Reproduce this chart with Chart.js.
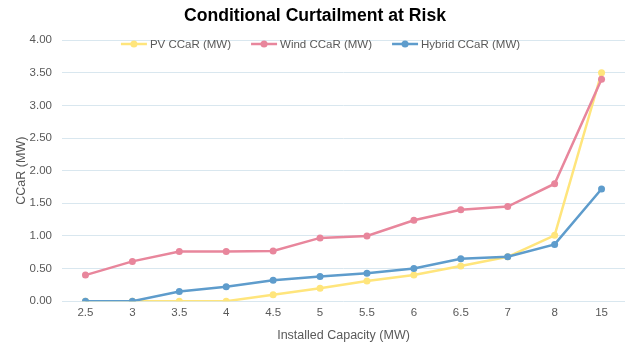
<!DOCTYPE html>
<html>
<head>
<meta charset="utf-8">
<script src="https://cdn.jsdelivr.net/npm/chart.js@4.4.1/dist/chart.umd.min.js"></script>
<style>
  html, body { margin: 0; padding: 0; background: #fff; }
  #wrap { position: relative; width: 631px; height: 343px; }
</style>
</head>
<body>
<div id="wrap"><canvas id="chart"></canvas></div>
<script>
// installed capacity steps (MW)
const capacities = ['2.5', '3', '3.5', '4', '4.5', '5', '5.5', '6', '6.5', '7', '8', '15'];

// conditional curtailment at risk per technology (MW)
const pvCCaR     = [0.00, 0.00, 0.00, 0.00, 0.10, 0.20, 0.31, 0.40, 0.54, 0.68, 1.01, 3.50];
const windCCaR   = [0.40, 0.61, 0.76, 0.76, 0.77, 0.97, 1.00, 1.24, 1.40, 1.45, 1.80, 3.40];
const hybridCCaR = [0.00, 0.00, 0.15, 0.22, 0.32, 0.38, 0.43, 0.50, 0.65, 0.68, 0.87, 1.72];

const yTicks = [0, 0.5, 1, 1.5, 2, 2.5, 3, 3.5, 4];

const FONT = '"Liberation Sans", Arial, sans-serif';
const TEXT = '#595959';

function series(label, data, color, order) {
  return {
    label, data, order,
    borderColor: color,
    backgroundColor: color,
    borderWidth: 2.5,
    pointRadius: 3.5,
    pointHoverRadius: 3.5,
    pointBorderWidth: 0,
    tension: 0
  };
}

// legend drawn by hand: short line with a dot, then the label
const lineLegend = {
  id: 'lineLegend',
  afterDraw(chart) {
    const ctx = chart.ctx;
    const y = 44;
    const gap = 20;
    ctx.save();
    ctx.font = '11.5px ' + FONT;
    ctx.textBaseline = 'middle';
    const items = chart.data.datasets.map(ds => ({
      ds, w: 26 + 3 + ctx.measureText(ds.label).width
    }));
    const total = items.reduce((s, it) => s + it.w, 0) + gap * (items.length - 1);
    let x = 320.5 - total / 2;
    items.forEach(it => {
      ctx.strokeStyle = it.ds.borderColor;
      ctx.lineWidth = 2.5;
      ctx.beginPath();
      ctx.moveTo(x, y);
      ctx.lineTo(x + 26, y);
      ctx.stroke();
      ctx.fillStyle = it.ds.borderColor;
      ctx.beginPath();
      ctx.arc(x + 13, y, 3.5, 0, Math.PI * 2);
      ctx.fill();
      ctx.fillStyle = TEXT;
      ctx.textAlign = 'left';
      ctx.fillText(it.ds.label, x + 29, y + 0.5);
      x += it.w + gap;
    });
    ctx.restore();
  }
};

new Chart(document.getElementById('chart'), {
  type: 'line',
  data: {
    labels: capacities,
    datasets: [
      series('PV CCaR (MW)', pvCCaR, '#FFE57C', 3),
      series('Wind CCaR (MW)', windCCaR, '#E8869C', 2),
      series('Hybrid CCaR (MW)', hybridCCaR, '#5E9CCC', 1)
    ]
  },
  options: {
    responsive: true,
    maintainAspectRatio: false,
    animation: false,
    layout: { padding: { top: 0, right: 6, left: 5, bottom: 0 } },
    plugins: {
      legend: { display: false },
      tooltip: { enabled: false },
      title: {
        display: true,
        text: 'Conditional Curtailment at Risk',
        color: '#000',
        font: { family: FONT, size: 17.6, weight: 'bold' },
        padding: { top: 6, bottom: 13 }
      }
    },
    scales: {
      x: {
        offset: true,
        grid: { display: false, drawTicks: false },
        border: { display: false },
        ticks: { color: TEXT, font: { family: FONT, size: 11.5 }, padding: 5, maxRotation: 0 },
        title: {
          display: true,
          text: 'Installed Capacity (MW)',
          color: TEXT,
          font: { family: FONT, size: 12.5 },
          padding: { top: 3, bottom: 0 }
        }
      },
      y: {
        min: 0,
        max: 4,
        afterBuildTicks(scale) { scale.ticks = yTicks.map(v => ({ value: v })); },
        afterFit(scale) { scale.width = 57; },
        grid: { color: '#D9E7EF', lineWidth: 1, drawTicks: false },
        border: { display: false },
        ticks: {
          color: TEXT,
          font: { family: FONT, size: 11.5 },
          padding: 10,
          callback: v => Number(v).toFixed(2)
        },
        title: {
          display: true,
          text: 'CCaR (MW)',
          color: TEXT,
          font: { family: FONT, size: 12.5 },
          padding: { top: 9, bottom: 0 }
        }
      }
    }
  },
  plugins: [lineLegend]
});
</script>
</body>
</html>
